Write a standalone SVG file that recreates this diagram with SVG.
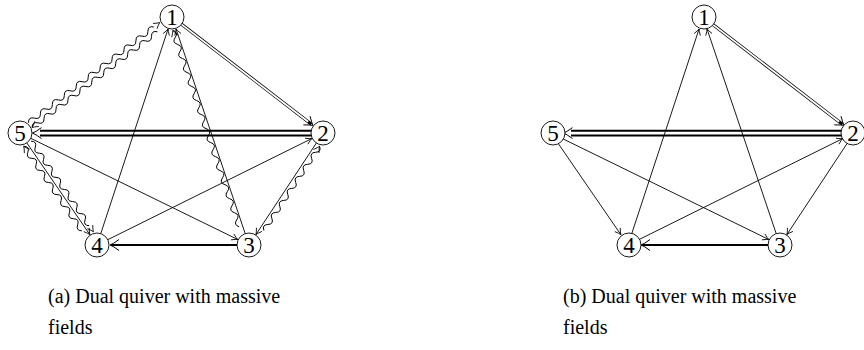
<svg xmlns="http://www.w3.org/2000/svg" xmlns:xlink="http://www.w3.org/1999/xlink" width="864" height="350" viewBox="0 0 864 350">
<style>
.e{fill:none;stroke:#000;stroke-width:0.9}
.th{fill:none;stroke:#000;stroke-width:2}
.wv{fill:none;stroke:#000;stroke-width:0.9}
.nd circle{fill:#fff;stroke:#000;stroke-width:0.9}
.nd text{font-family:"Liberation Serif","Times New Roman",serif;font-size:23px;text-anchor:middle;fill:#000}
.cap{font-family:"Liberation Serif","Times New Roman",serif;font-size:20px;fill:#000}
</style>
<defs>
<marker id="ar" markerUnits="userSpaceOnUse" viewBox="-8 -5 10 10" refX="0" refY="0" markerWidth="10" markerHeight="10" orient="auto" overflow="visible">
<path d="M-6,-3.3 Q-2,-0.6 0,0 Q-2,0.6 -6,3.3" fill="none" stroke="#000" stroke-width="0.8"/>
</marker>
<path id="ah" d="M-6,-3.3 Q-2,-0.6 0,0 Q-2,0.6 -6,3.3" fill="none" stroke="#000" stroke-width="0.8"/>
<path id="dh" d="M-8,-5.5 Q-2.5,-1.2 0,0 Q-2.5,1.2 -8,5.5" fill="none" stroke="#000" stroke-width="0.9"/>
<path id="th" d="M-9,-5.5 Q-3,-1 0,0 Q-3,1 -9,5.5" fill="none" stroke="#000" stroke-width="1"/>
</defs>

<g id="panel-a">
<g id="edges-a">
<line x1="178" y1="21.6" x2="311.4" y2="124.2" stroke="#000" stroke-width="3.2"/>
<line x1="178" y1="21.6" x2="308.2" y2="121.7" stroke="#fff" stroke-width="1.8"/>
<use xlink:href="#dh" transform="translate(313,125.4) rotate(37.53)"/>
<line x1="311.5" y1="130.8" x2="40" y2="130.8" class="th"/>
<line x1="311.5" y1="135.4" x2="40" y2="135.4" class="th"/>
<use xlink:href="#th" transform="translate(32.5,133.1) rotate(180)"/>
<line x1="237.5" y1="245" x2="111" y2="245" class="th"/>
<use xlink:href="#th" transform="translate(110,245) rotate(180)"/>
<line x1="100.75" y1="233.6" x2="168.1" y2="28.9" class="e" marker-end="url(#ar)"/>
<line x1="245.2" y1="233.6" x2="176" y2="28.85" class="e" marker-end="url(#ar)"/>
<line x1="30.8" y1="138.3" x2="237.8" y2="239.5" class="e" marker-end="url(#ar)"/>
<line x1="107.75" y1="239.7" x2="311.8" y2="138.55" class="e" marker-end="url(#ar)"/>
<line x1="26.8" y1="142.9" x2="89.9" y2="234.7" class="e" marker-end="url(#ar)"/>
<line x1="316.4" y1="143" x2="255.9" y2="234.6" class="e" marker-end="url(#ar)"/>
<!-- wavy 5-1 pair -->
<g transform="translate(30.3,125.1) rotate(-37.35)">
<path class="wv" d="M0,-3 q3.75,-5 7.51,0 t7.51,0 7.51,0 7.51,0 7.51,0 7.51,0 7.51,0 7.51,0 7.51,0 7.51,0 7.51,0 7.51,0 7.51,0 7.51,0 7.51,0 7.51,0 7.51,0 7.51,0 7.51,0 7.51,0 7.51,0"/>
<use xlink:href="#ah" transform="translate(165.2,-3)"/>
<path class="wv" d="M0,3 q3.75,-5 7.51,0 t7.51,0 7.51,0 7.51,0 7.51,0 7.51,0 7.51,0 7.51,0 7.51,0 7.51,0 7.51,0 7.51,0 7.51,0 7.51,0 7.51,0 7.51,0 7.51,0 7.51,0 7.51,0 7.51,0 7.51,0"/>
<use xlink:href="#ah" transform="translate(0,3) scale(-1,1)"/>
</g>
<!-- wavy 5-4 pair -->
<g transform="translate(27.4,143.7) rotate(55.5)">
<path class="wv" d="M0,4.5 q3.66,-5 7.33,0 t7.33,0 7.33,0 7.33,0 7.33,0 7.33,0 7.33,0 7.33,0 7.33,0 7.33,0 7.33,0 7.33,0 7.33,0 7.33,0"/>
<use xlink:href="#ah" transform="translate(0,4.5) scale(-1,1)"/>
<path class="wv" d="M0,-4.5 q3.66,-5 7.33,0 t7.33,0 7.33,0 7.33,0 7.33,0 7.33,0 7.33,0 7.33,0 7.33,0 7.33,0 7.33,0 7.33,0 7.33,0 7.33,0"/>
<use xlink:href="#ah" transform="translate(110,-4.5)"/>
</g>
<!-- wavy 1-3 -->
<g transform="translate(176.2,29.3) rotate(71.35)">
<path class="wv" d="M0,3.5 q3.7,-5 7.4,0 t7.4,0 7.4,0 7.4,0 7.4,0 7.4,0 7.4,0 7.4,0 7.4,0 7.4,0 7.4,0 7.4,0 7.4,0 7.4,0 7.4,0 7.4,0 7.4,0 7.4,0 7.4,0 7.4,0 7.4,0 7.4,0 7.4,0 7.4,0 7.4,0 7.4,0 7.4,0 7.4,0"/>
<use xlink:href="#ah" transform="translate(0,3.5) scale(-1,1)"/>
</g>
<!-- wavy 2-3 -->
<g transform="translate(315.8,143.8) rotate(123.45)">
<path class="wv" d="M0,-4.5 q3.6,-5 7.21,0 t7.21,0 7.21,0 7.21,0 7.21,0 7.21,0 7.21,0 7.21,0 7.21,0 7.21,0 7.21,0 7.21,0 7.21,0 7.21,0"/>
<use xlink:href="#ah" transform="translate(0,-4.5) scale(-1,1)"/>
</g>
</g>
<g id="a1" class="nd"><circle cx="172" cy="17" r="12"/><text x="172" y="25">1</text></g>
<g id="a2" class="nd"><circle cx="323" cy="133" r="12"/><text x="323" y="141">2</text></g>
<g id="a3" class="nd"><circle cx="249" cy="245" r="12"/><text x="249" y="253">3</text></g>
<g id="a4" class="nd"><circle cx="97" cy="245" r="12"/><text x="97" y="253">4</text></g>
<g id="a5" class="nd"><circle cx="20" cy="133" r="12"/><text x="20" y="141">5</text></g>
</g>

<g id="panel-b" transform="translate(531,0)">
<g id="edges-b">
<line x1="178" y1="21.6" x2="311.4" y2="124.2" stroke="#000" stroke-width="3.2"/>
<line x1="178" y1="21.6" x2="308.2" y2="121.7" stroke="#fff" stroke-width="1.8"/>
<use xlink:href="#dh" transform="translate(313,125.4) rotate(37.53)"/>
<line x1="311.5" y1="130.8" x2="40" y2="130.8" class="th"/>
<line x1="311.5" y1="135.4" x2="40" y2="135.4" class="th"/>
<use xlink:href="#th" transform="translate(32.5,133.1) rotate(180)"/>
<line x1="237.5" y1="245" x2="111" y2="245" class="th"/>
<use xlink:href="#th" transform="translate(110,245) rotate(180)"/>
<line x1="100.75" y1="233.6" x2="168.1" y2="28.9" class="e" marker-end="url(#ar)"/>
<line x1="245.2" y1="233.6" x2="176" y2="28.85" class="e" marker-end="url(#ar)"/>
<line x1="30.8" y1="138.3" x2="237.8" y2="239.5" class="e" marker-end="url(#ar)"/>
<line x1="107.75" y1="239.7" x2="311.8" y2="138.55" class="e" marker-end="url(#ar)"/>
<line x1="26.8" y1="142.9" x2="89.9" y2="234.7" class="e" marker-end="url(#ar)"/>
<line x1="316.4" y1="143" x2="255.9" y2="234.6" class="e" marker-end="url(#ar)"/>
</g>
<g id="b1" class="nd"><circle cx="173" cy="17" r="12"/><text x="173" y="25">1</text></g>
<g id="b2" class="nd"><circle cx="322" cy="133" r="12"/><text x="322" y="141">2</text></g>
<g id="b3" class="nd"><circle cx="249" cy="245" r="12"/><text x="249" y="253">3</text></g>
<g id="b4" class="nd"><circle cx="98" cy="245" r="12"/><text x="98" y="253">4</text></g>
<g id="b5" class="nd"><circle cx="22" cy="133" r="12"/><text x="22" y="141">5</text></g>
</g>

<text class="cap" x="48" y="303">(a) Dual quiver with massive</text>
<text class="cap" x="48" y="334">fields</text>
<text class="cap" x="563" y="303">(b) Dual quiver with massive</text>
<text class="cap" x="563" y="334">fields</text>
</svg>
